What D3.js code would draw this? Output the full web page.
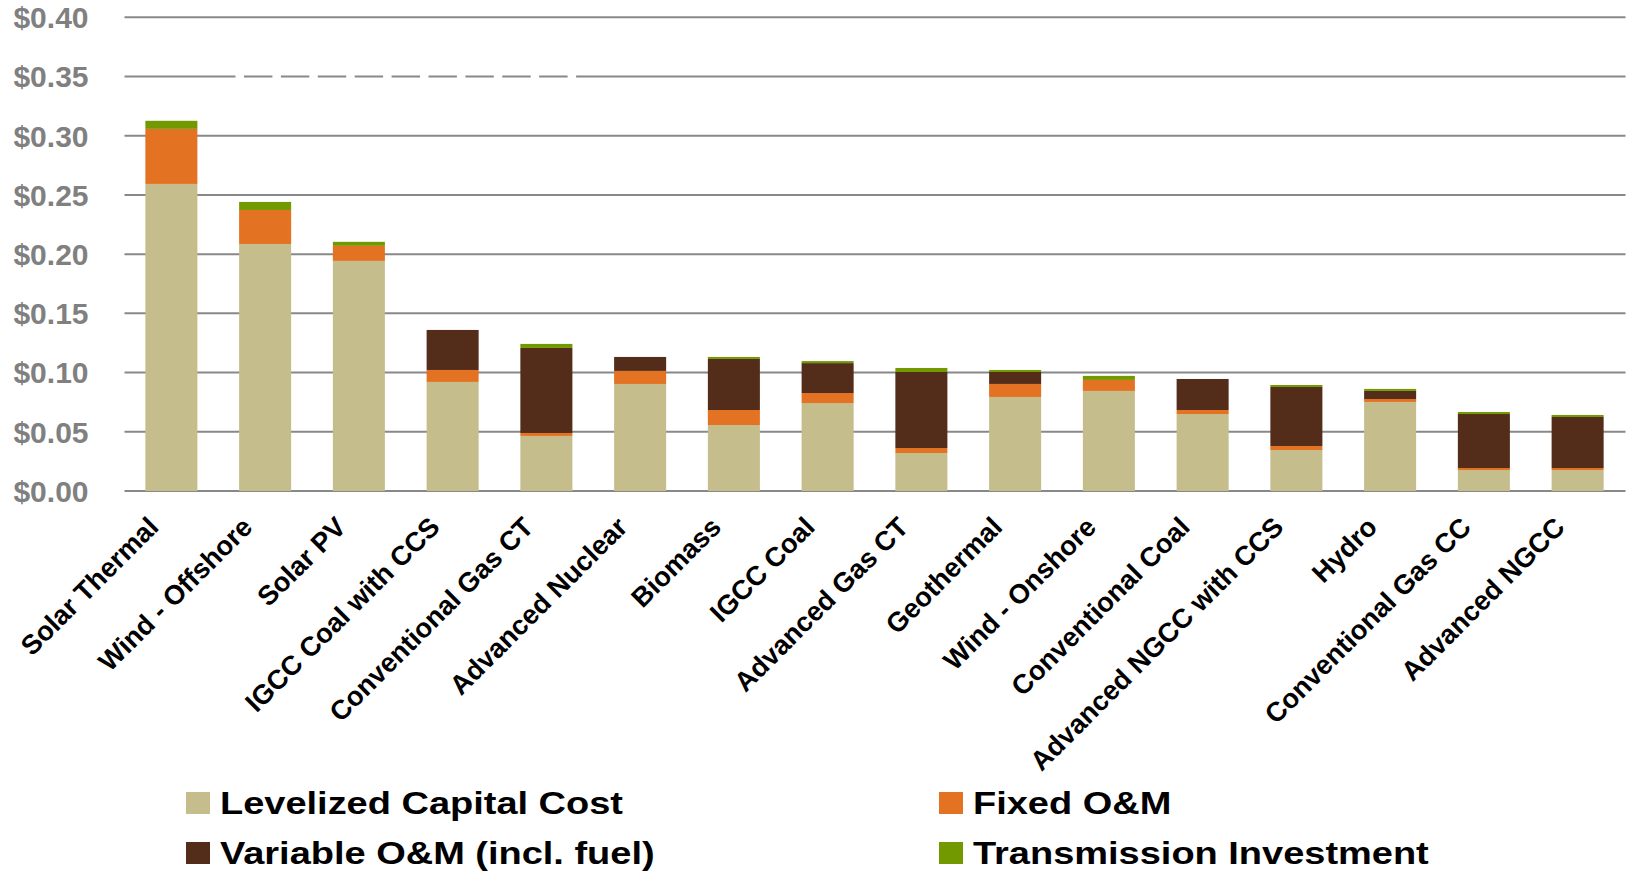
<!DOCTYPE html>
<html>
<head>
<meta charset="utf-8">
<script src="https://cdn.jsdelivr.net/npm/d3@7"></script>
<style>
  html, body { margin: 0; padding: 0; background: #fff; }
  svg { display: block; font-family: "Liberation Sans", Arial, sans-serif; }
</style>
</head>
<body>
<svg id="chart" width="1628" height="872"></svg>
<script>
// Levelized cost of electricity by technology ($/kWh), stacked by component
const categories = [
  "Solar Thermal", "Wind - Offshore", "Solar PV", "IGCC Coal with CCS",
  "Conventional Gas CT", "Advanced Nuclear", "Biomass", "IGCC Coal",
  "Advanced Gas CT", "Geothermal", "Wind - Onshore", "Conventional Coal",
  "Advanced NGCC with CCS", "Hydro", "Conventional Gas CC", "Advanced NGCC"
];
const capitalCost  = [0.2593, 0.2086, 0.1943, 0.0921, 0.0465, 0.0904, 0.0557, 0.0743, 0.0321, 0.0794, 0.0845, 0.0650, 0.0346, 0.0752, 0.0177, 0.0177];
const fixedOM      = [0.0465, 0.0287, 0.0127, 0.0101, 0.0025, 0.0110, 0.0127, 0.0084, 0.0042, 0.0110, 0.0093, 0.0034, 0.0034, 0.0025, 0.0017, 0.0017];
const variableOM   = [0.0000, 0.0000, 0.0000, 0.0338, 0.0718, 0.0118, 0.0431, 0.0253, 0.0642, 0.0101, 0.0000, 0.0262, 0.0498, 0.0068, 0.0456, 0.0431];
const transmission = [0.0068, 0.0068, 0.0034, 0.0000, 0.0034, 0.0000, 0.0017, 0.0017, 0.0034, 0.0017, 0.0034, 0.0000, 0.0017, 0.0017, 0.0017, 0.0017];

const seriesNames = ["Levelized Capital Cost", "Fixed O&M", "Variable O&M (incl. fuel)", "Transmission Investment"];
const seriesKeys  = ["capital", "fixed", "variable", "transmission"];
const seriesColors = ["#C5BD8B", "#E37222", "#542D1A", "#729A00"];
const yTicks = [0, 0.05, 0.10, 0.15, 0.20, 0.25, 0.30, 0.35, 0.40];

const rows = categories.map((c, i) => ({
  category: c,
  capital: capitalCost[i],
  fixed: fixedOM[i],
  variable: variableOM[i],
  transmission: transmission[i]
}));

const svg = d3.select("#chart");
const plot = { left: 124.5, right: 1624.5, top: 17.3, bottom: 491 };

const x = d3.scaleBand()
  .domain(categories)
  .range([plot.left, plot.right])
  .paddingInner(0.445)
  .paddingOuter(0.2225);

const y = d3.scaleLinear().domain([0, 0.4]).range([plot.bottom, plot.top]);

const gridColor = "#888888";

// Gridlines; the $0.35 line is broken into dashes over part of its length
const dashed = [111].concat(d3.range(9).flatMap(() => [8.5, 28.4])).concat([8.5, 3000]);
svg.append("g")
  .selectAll("line")
  .data(yTicks)
  .join("line")
  .attr("x1", plot.left)
  .attr("x2", plot.right + 1)
  .attr("y1", d => y(d))
  .attr("y2", d => y(d))
  .attr("stroke", gridColor)
  .attr("stroke-width", 2)
  .attr("stroke-dasharray", d => Math.abs(d - 0.35) < 1e-9 ? dashed.join(",") : null);

// Y tick labels
svg.append("g")
  .selectAll("text")
  .data(yTicks)
  .join("text")
  .attr("x", plot.left - 36)
  .attr("y", d => y(d))
  .attr("dy", "0.36em")
  .attr("text-anchor", "end")
  .attr("font-size", 30)
  .attr("font-weight", "bold")
  .attr("fill", "#808080")
  .text(d => d3.format("$.2f")(d));

// Stacked bars
const stacked = d3.stack().keys(seriesKeys)(rows);
svg.append("g")
  .selectAll("g")
  .data(stacked)
  .join("g")
  .attr("fill", (d, i) => seriesColors[i])
  .selectAll("rect")
  .data(d => d)
  .join("rect")
  .attr("x", d => x(d.data.category))
  .attr("width", x.bandwidth())
  .attr("y", d => y(d[1]))
  .attr("height", d => Math.max(0, y(d[0]) - y(d[1])));

// Rotated category labels
svg.append("g")
  .selectAll("text")
  .data(categories)
  .join("text")
  .attr("transform", d => `translate(${x(d) + x.bandwidth() / 2 - 18},${plot.bottom + 31}) rotate(-45)`)
  .attr("dy", "0.35em")
  .attr("text-anchor", "end")
  .attr("font-size", 27.2)
  .attr("font-weight", "bold")
  .attr("fill", "#000")
  .text(d => d);

// Legend: two columns, two rows
const legendCols = [186, 939];
const legendRows = [814, 864];
const legend = svg.append("g")
  .selectAll("g")
  .data(seriesNames)
  .join("g")
  .attr("transform", (d, i) => `translate(${legendCols[i % 2]},${legendRows[Math.floor(i / 2)]})`);

legend.append("rect")
  .attr("x", 0)
  .attr("y", -22)
  .attr("width", 24)
  .attr("height", 22)
  .attr("fill", (d, i) => seriesColors[i]);

legend.append("text")
  .attr("transform", "translate(34,0) scale(1.225,1)")
  .attr("font-size", 31)
  .attr("font-weight", "bold")
  .attr("fill", "#000")
  .text(d => d);
</script>
</body>
</html>
